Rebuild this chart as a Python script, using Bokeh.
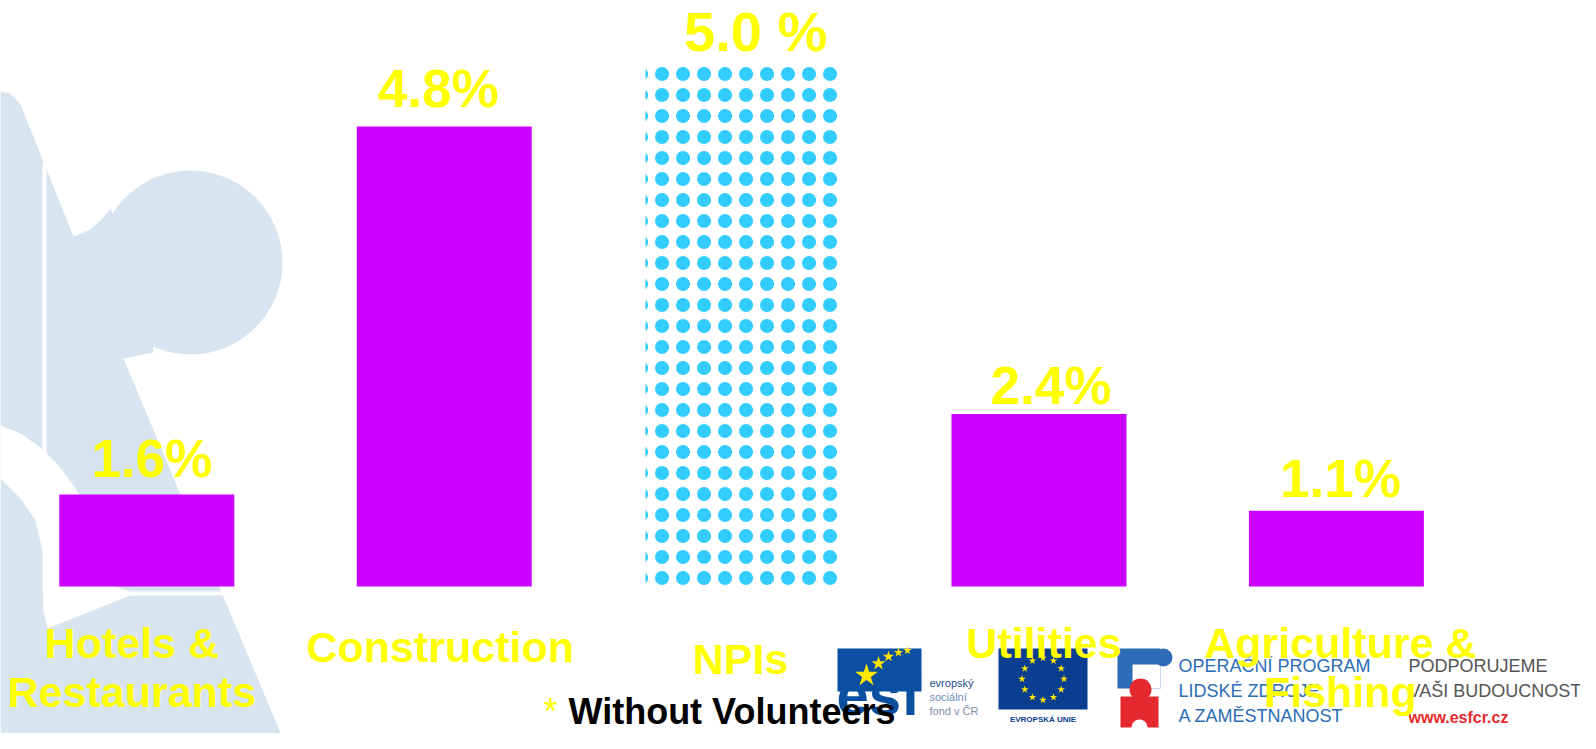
import numpy as np
from bokeh.plotting import figure
from bokeh.models import Range1d, ColumnDataSource
from bokeh.embed import file_html
from bokeh.resources import INLINE
from bokeh.core.properties import value

# ---------------- data ----------------
categories = ["Hotels & Restaurants", "Construction", "NPIs", "Utilities", "Agriculture & Fishing"]
category_lines = [["Hotels &", "Restaurants"], ["Construction"], ["NPIs"], ["Utilities"], ["Agriculture &", "Fishing"]]
printed_values = [1.6, 4.8, 5.0, 2.4, 1.1]
value_labels = ["1.6%", "4.8%", "5.0 %", "2.4%", "1.1%"]
# bar heights as drawn on the slide (the slide does not draw them to scale)
bar_heights = [0.96, 4.8, 5.45, 1.80, 0.79]
highlight = "NPIs"
footnote = "Without Volunteers"

# ---------------- styles / layout ----------------
FONT = value("Liberation Sans")
MAGENTA = "#CC00FF"
YELLOW = "#FFFF00"
DOT_BLUE = "#33CCFF"
PUZZLE = "#D8E5F0"
W, H = 1580, 733
X0, PXX = 146.3, 297.4      # px of first category, px per category
Y0, PXY = 586.0, 95.83      # px of zero line, px per unit
TB = 0.40                   # baseline correction (fraction of font size)
bar_w = {"solid": 175 / PXX, "highlight": 192 / PXX}
label_gap_px = [15, 17, 10, 7, 11]
label_dx = [5, -6, 14, 12, 4]
label_fs = [53, 53, 56, 53, 53]
cat_dx = [-15, -4, -1, 5, 4]
cat_fs = 43
cat_base1 = [660, 664, 676, 660, 660]
cat_base2 = [709, None, None, None, 709]
LOGO_DY = -9


def bl(y, fs):
    """alphabetic baseline in px space corrected for renderer offset"""
    return y - TB * fs


p = figure(width=W, height=H,
           x_range=Range1d((0 - X0) / PXX, (W - X0) / PXX),
           y_range=Range1d((Y0 - H) / PXY, (Y0 - 0) / PXY),
           output_backend="svg", toolbar_location=None,
           x_axis_location=None, y_axis_location=None,
           min_border=0, outline_line_color=None,
           background_fill_color="white", border_fill_color="white")
p.grid.visible = False
p.extra_x_ranges = {"px": Range1d(0, W)}
p.extra_y_ranges = {"px": Range1d(H, 0)}
PX = dict(x_range_name="px", y_range_name="px")

# ---------------- background puzzle decoration ----------------
pa_x = [0, 10, 20, 73, 88, 100, 110, 150, 153, 123, 287, 0]
pa_y = [91, 93, 104, 236, 230, 220, 208, 300, 352, 358, 749, 749]
p.patch(pa_x, pa_y, fill_color=PUZZLE, line_color=None, **PX)
p.circle(x=[190], y=[262], radius=92, fill_color=PUZZLE, line_color=None, **PX)
wb_x = [0, 20, 40, 58, 73, 90, 105, 115, 130, 222, 223, 130, 47, 43, 42, 42, 35, 20, 0]
wb_y = [425, 433, 447, 465, 485, 510, 545, 586, 591, 591, 595, 595, 628, 610, 585, 550, 520, 498, 478]
p.patch(wb_x, wb_y, fill_color="white", line_color=None, **PX)
p.quad(left=[42], right=[46], top=[162], bottom=[456], fill_color="white", line_color=None, **PX)

# ---------------- bars ----------------
idx = np.arange(len(categories))
solid = [i for i, c in enumerate(categories) if c != highlight]
hi = categories.index(highlight)
p.vbar(x=idx[solid], top=[bar_heights[i] for i in solid], bottom=0, width=bar_w["solid"],
       fill_color=MAGENTA, line_color=None)
# patterned bar: dot + ring hatch layers give larger blue spots on a square grid
p.vbar(x=[idx[hi]], top=[bar_heights[hi]], bottom=0, width=bar_w["highlight"],
       fill_color="white", line_color=None, hatch_pattern="dot", hatch_scale=21,
       hatch_weight=1, hatch_color=DOT_BLUE)
p.vbar(x=[idx[hi]], top=[bar_heights[hi]], bottom=0, width=bar_w["highlight"],
       fill_color=None, line_color=None, hatch_pattern="ring", hatch_scale=21,
       hatch_weight=3.5, hatch_color=DOT_BLUE)

# ---------------- logos (bottom right) ----------------
d = LOGO_DY
ESF_BLUE = "#0A4FA0"
p.quad(left=[837], right=[921], top=[657 + d], bottom=[700 + d], fill_color=ESF_BLUE, line_color=None, **PX)
p.text(x=[836], y=[bl(726 + d, 58)], text=["esf"], text_font=FONT, text_font_style="bold",
       text_font_size="58px", text_color=ESF_BLUE, text_baseline="alphabetic", **PX)
p.scatter(x=[866, 878, 888, 898, 907], y=[684 + d, 672 + d, 665 + d, 661 + d, 659 + d],
          size=[24, 15, 12, 10, 9], marker="star", fill_color="#FFE600", line_color=None, **PX)
p.text(x=[929, 929, 929], y=[bl(v + d, 11) for v in (696, 710, 724)],
       text=["evropský", "sociální", "fond v ČR"], text_font=FONT, text_font_size="11px",
       text_color=["#1D4F8F", "#6C8CB8", "#7D8FA8"], text_baseline="alphabetic", **PX)
p.quad(left=[998], right=[1087], top=[657 + d], bottom=[718 + d], fill_color="#0B3D91", line_color=None, **PX)
ang = np.arange(12) * np.pi / 6
p.scatter(x=list(1042.5 + 21 * np.cos(ang)), y=list(687.5 + d + 21 * np.sin(ang)), size=8, marker="star",
          fill_color="#FFE600", line_color=None, **PX)
p.text(x=[1042.5], y=[bl(731 + d, 8)], text=["EVROPSKÁ UNIE"], text_font=FONT, text_font_style="bold",
       text_font_size="8px", text_color="#0B3D91", text_align="center", text_baseline="alphabetic", **PX)
OP_BLUE = "#2C6DB5"
OP_RED = "#E42A2F"
p.quad(left=[1117], right=[1160], top=[657 + d], bottom=[697 + d], fill_color=OP_BLUE, line_color=None, **PX)
p.quad(left=[1132], right=[1160], top=[673 + d], bottom=[697 + d], fill_color="white", line_color=None, **PX)
p.circle(x=[1163], y=[666 + d], radius=9, fill_color=OP_BLUE, line_color=None, **PX)
p.circle(x=[1140], y=[698 + d], radius=11, fill_color=OP_RED, line_color=None, **PX)
p.quad(left=[1120], right=[1158], top=[705 + d], bottom=[736 + d], fill_color=OP_RED, line_color=None, **PX)
p.circle(x=[1139], y=[736 + d], radius=8, fill_color="white", line_color=None, **PX)
p.text(x=[1178] * 3, y=[bl(v + d, 18) for v in (682, 707, 732)],
       text=["OPERAČNÍ PROGRAM", "LIDSKÉ ZDROJE", "A ZAMĚSTNANOST"],
       text_font=FONT, text_font_size="18px", text_color=OP_BLUE, text_baseline="alphabetic", **PX)
p.text(x=[1408] * 2, y=[bl(v + d, 18) for v in (682, 707)], text=["PODPORUJEME", "VAŠI BUDOUCNOST"],
       text_font=FONT, text_font_size="18px", text_color="#555555", text_baseline="alphabetic", **PX)
p.text(x=[1408], y=[bl(732 + d, 16)], text=["www.esfcr.cz"], text_font=FONT, text_font_style="bold",
       text_font_size="16px", text_color=OP_RED, text_baseline="alphabetic", **PX)

# ---------------- category labels ----------------
l1 = ColumnDataSource(dict(x=idx, y=[bl(v, cat_fs) for v in cat_base1],
                           t=[c[0] for c in category_lines], dx=cat_dx))
p.text(x="x", y="y", text="t", x_offset="dx", source=l1, text_font=FONT, text_font_style="bold",
       text_font_size=f"{cat_fs}px", text_color=YELLOW, text_align="center", text_baseline="alphabetic",
       y_range_name="px")
two = [i for i, c in enumerate(category_lines) if len(c) > 1]
l2 = ColumnDataSource(dict(x=idx[two], y=[bl(cat_base2[i], cat_fs) for i in two],
                           t=[category_lines[i][1] for i in two], dx=[cat_dx[i] for i in two]))
p.text(x="x", y="y", text="t", x_offset="dx", source=l2, text_font=FONT, text_font_style="bold",
       text_font_size=f"{cat_fs}px", text_color=YELLOW, text_align="center", text_baseline="alphabetic",
       y_range_name="px")

# ---------------- value labels ----------------
vl = ColumnDataSource(dict(x=idx,
                           y=[h + (g + TB * f) / PXY for h, g, f in zip(bar_heights, label_gap_px, label_fs)],
                           t=value_labels, dx=label_dx, fs=[f"{f}px" for f in label_fs]))
p.text(x="x", y="y", text="t", x_offset="dx", text_font_size="fs", source=vl, text_font=FONT,
       text_font_style="bold", text_color=YELLOW, text_align="center", text_baseline="alphabetic")

# ---------------- footnote ----------------
p.text(x=[543], y=[bl(725, 36)], text=["*"], text_font=FONT, text_font_size="36px", text_color=YELLOW,
       text_baseline="alphabetic", **PX)
p.text(x=[568], y=[bl(725, 36)], text=[footnote], text_font=FONT, text_font_style="bold",
       text_font_size="36px", text_color="black", text_baseline="alphabetic", **PX)

open("out.html", "w").write(file_html(p, INLINE))
